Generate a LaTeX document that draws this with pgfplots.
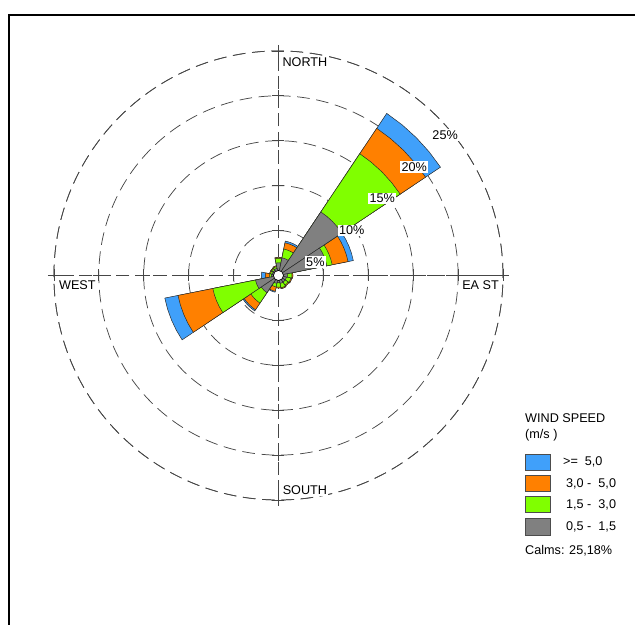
\documentclass[border=0pt]{standalone}
\usepackage{pgfplots}
\pgfplotsset{compat=1.18}
\usepackage{pgfplotstable}
\usepgfplotslibrary{polar}
\usepackage{fontspec}
\setmainfont{Liberation Sans}

\definecolor{cblue}{RGB}{64,160,250}
\definecolor{corange}{RGB}{255,128,0}
\definecolor{cgreen}{RGB}{128,255,0}
\definecolor{cgray}{RGB}{128,128,128}
\definecolor{cline}{RGB}{70,70,70}

\pgfplotsset{petal/.style={draw=black!85, line width=0.35pt}}

% cumulative frequencies (%) per direction (compass degrees)
\pgfplotstableread{
dir   gr   gn   or   bl
0     1.4  1.9  2.0  2.0
22.5  2.0  3.0  3.7  3.9
45    8.5  16.3 19.7 21.7
67.5  5.5  6.1  7.9  8.5
90    1.0  1.5  1.6  1.6
112.5 0.9  1.4  1.5  1.5
135   0.9  1.3  1.4  1.4
157.5 0.9  1.4  1.5  1.5
180   0.8  1.3  1.4  1.4
202.5 0.9  1.3  1.8  1.9
225   2.3  3.7  4.6  4.75
247.5 2.6  7.45 11.4 12.9
270   0.8  1.0  1.45 1.9
292.5 0.7  0.9  1.0  1.0
315   0.7  0.9  1.0  1.0
337.5 0.8  1.0  1.1  1.1
}\rose

\newcommand\petal[3]{%
  \pgfmathsetmacro\aA{90-#1-11.25}%
  \pgfmathsetmacro\aB{90-#1-5.625}%
  \pgfmathsetmacro\aM{90-#1}%
  \pgfmathsetmacro\aC{90-#1+5.625}%
  \pgfmathsetmacro\aD{90-#1+11.25}%
  \edef\tmp{\noexpand\addplot[petal,fill=#3] coordinates {(\aA,0) (\aA,#2) (\aB,#2) (\aM,#2) (\aC,#2) (\aD,#2) (\aD,0)} -- cycle;}%
  \tmp}

\newcommand\layer[2]{%
  \pgfplotsinvokeforeach{0,...,15}{%
    \pgfplotstablegetelem{##1}{dir}\of\rose \let\rdir\pgfplotsretval
    \pgfplotstablegetelem{##1}{#1}\of\rose \let\rrad\pgfplotsretval
    \petal{\rdir}{\rrad}{#2}%
  }}

\begin{document}
\begin{tikzpicture}[font=\fontsize{9.5}{11}\selectfont]
\begin{scope}[x=0.75pt,y=-0.75pt]
\useasboundingbox (0,0) rectangle (636,626);
\end{scope}

\begin{polaraxis}[
  at={(209.25pt,-207pt)}, anchor=center,
  scale only axis, width=337.5pt, height=337.5pt,
  ymin=0, ymax=25,
  xtick={0,90,180,270}, ytick={5,10,15,20,25},
  xticklabels={}, yticklabels={},
  major tick length=0pt,
  xmajorgrids, ymajorgrids,
  x grid style={cline, line width=0.6pt, dash pattern=on 10pt off 4pt},
  y grid style={cline, line width=0.55pt, dash pattern=on 9.5pt off 5pt},
  axis line style={cline, line width=0.55pt, dash pattern=on 9.5pt off 5pt},
  clip=false,
]
\layer{bl}{cblue}
\layer{or}{corange}
\layer{gn}{cgreen}
\layer{gr}{cgray}
\addplot[only marks, mark=+, mark size=4.5pt, mark options={cline, line width=0.55pt, solid}]
  coordinates {(0,5) (0,10) (0,15) (0,20) (0,25)
               (90,5) (90,10) (90,15) (90,20) (90,25)
               (180,5) (180,10) (180,15) (180,20) (180,25)
               (270,5) (270,10) (270,15) (270,20) (270,25)};
\addplot[only marks, mark=*, mark size=3.8pt, mark options={fill=white, draw=black, line width=0.5pt}]
  coordinates {(0,0)};
\end{polaraxis}

\begin{scope}[x=0.75pt,y=-0.75pt]
\draw[line width=1.9pt] (9,626) -- (9,15) -- (636,15);
% compass labels
\node[fill=white, inner sep=1pt] at (305.5,62) {NORTH};
\node[fill=white, inner sep=1pt] at (305.5,491) {SOUTH};
\node[fill=white, inner sep=1pt] at (77.5,286) {WEST};
\node[fill=white, inner sep=1pt] at (481.5,286) {EA ST};
% percentage labels
\node[fill=white, inner sep=1pt] at (446,135) {25\%};
\node[fill=white, inner sep=1pt] at (415,167.5) {20\%};
\node[fill=white, inner sep=1pt] at (383,199) {15\%};
\node[fill=white, inner sep=1pt] at (352.5,231) {10\%};
\node[fill=white, inner sep=1pt] at (316,262.5) {5\%};
% legend
\node[anchor=west, inner sep=0pt] at (526,419) {WIND SPEED};
\node[anchor=west, inner sep=0pt] at (526,436) {(m/s )};
\draw[fill=cblue, draw=black!70, line width=0.6pt] (526,455) rectangle (551,471);
\draw[fill=corange, draw=black!70, line width=0.6pt] (526,476.7) rectangle (551,492.7);
\draw[fill=cgreen, draw=black!70, line width=0.6pt] (526,497.7) rectangle (551,513.3);
\draw[fill=cgray, draw=black!70, line width=0.6pt] (526,519.3) rectangle (551,536);
\node[anchor=west, inner sep=0pt] at (564,463) {>=\ \ 5,0};
\node[anchor=west, inner sep=0pt] at (567,484.7) {3,0 -\ \ 5,0};
\node[anchor=west, inner sep=0pt] at (567,505.5) {1,5 -\ \ 3,0};
\node[anchor=west, inner sep=0pt] at (567,527.7) {0,5 -\ \ 1,5};
\node[anchor=west, inner sep=0pt] at (526,552) {Calms: 25,18\%};
\end{scope}
\end{tikzpicture}
\end{document}
